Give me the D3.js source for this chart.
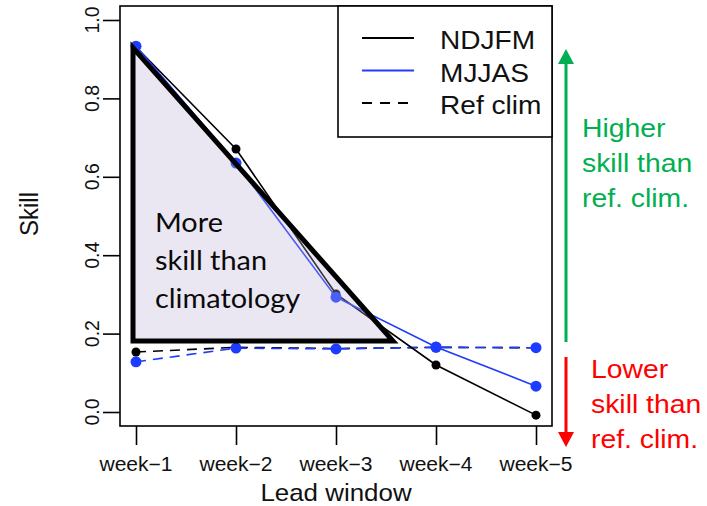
<!DOCTYPE html>
<html>
<head>
<meta charset="utf-8">
<script src="https://cdn.jsdelivr.net/npm/d3@7"></script>
<style>
  html, body { margin: 0; padding: 0; background: #fff; }
  svg { display: block; }
</style>
</head>
<body>
<svg id="chart" width="707" height="506"></svg>
<script>
// Lead windows on the x axis
const weeks = ["week\u22121", "week\u22122", "week\u22123", "week\u22124", "week\u22125"];
// Skill by lead window, per season
const ndjfm = [0.931, 0.671, 0.301, 0.120, -0.008];
const mjjas = [0.933, 0.635, 0.293, 0.166, 0.066];
// Reference climatology skill, per season
const refNdjfm = [0.153, 0.165, 0.162, 0.165, 0.164];
const refMjjas = [0.128, 0.163, 0.161, 0.165, 0.164];
// Y ticks
const yTicks = [0.0, 0.2, 0.4, 0.6, 0.8, 1.0];
// Shaded region (lead index, skill)
const region = [[0.97, 0.929], [0.97, 0.181], [3.57, 0.181]];
const regionText = ["More", "skill than", "climatology"];
const legendItems = [
  { label: "NDJFM", color: "#000000", dash: null },
  { label: "MJJAS", color: "#1e3cff", dash: null },
  { label: "Ref clim", color: "#000000", dash: "10,8" }
];
const higherText = ["Higher", "skill than", "ref. clim."];
const lowerText = ["Lower", "skill than", "ref. clim."];

const BLACK = "#000000", BLUE = "#1e3cff", GREEN = "#00b050", RED = "#ff0000";
const SX = 1.08; // horizontal text stretch
const RFONT = "'Liberation Sans', Arial, Helvetica, sans-serif";

const svg = d3.select("#chart");
const box = { left: 120, right: 552, top: 6, bottom: 426 };

const x = d3.scaleLinear().domain([0.84, 5.16]).range([box.left, box.right]);
const y = d3.scaleLinear().domain([-0.0357, 1.0357]).range([box.bottom, box.top]);
const xi = i => x(i + 1);

// Axes
const yAxis = d3.axisLeft(y).tickValues(yTicks).tickSize(17).tickFormat("");
const gy = svg.append("g").attr("transform", `translate(${box.left},0)`).call(yAxis);
gy.select(".domain").remove();
gy.selectAll(".tick line").attr("stroke", BLACK).attr("stroke-width", 1.6);

const xAxis = d3.axisBottom(x).tickValues([1, 2, 3, 4, 5]).tickSize(19).tickFormat("");
const gx = svg.append("g").attr("transform", `translate(0,${box.bottom})`).call(xAxis);
gx.select(".domain").remove();
gx.selectAll(".tick line").attr("stroke", BLACK).attr("stroke-width", 1.6);

// Tick labels
svg.append("g").selectAll("text").data(yTicks).join("text")
  .attr("transform", d => `translate(99,${y(d)}) scale(${SX},1) rotate(-90)`)
  .attr("text-anchor", "middle")
  .attr("font-family", RFONT).attr("font-size", 19.5).attr("fill", "#111")
  .text(d => d.toFixed(1));

svg.append("g").selectAll("text").data(weeks).join("text")
  .attr("transform", (d, i) => `translate(${xi(i)},471) scale(${SX},1)`)
  .attr("text-anchor", "middle")
  .attr("font-family", RFONT).attr("font-size", 19.5).attr("fill", "#111")
  .text(d => d);

// Axis titles
svg.append("text")
  .attr("transform", `translate(336,501) scale(${SX},1)`)
  .attr("text-anchor", "middle")
  .attr("font-family", RFONT).attr("font-size", 24).attr("fill", "#111")
  .text("Lead window");
svg.append("text")
  .attr("transform", `translate(38,214) scale(${SX},1) rotate(-90)`)
  .attr("text-anchor", "middle")
  .attr("font-family", RFONT).attr("font-size", 24).attr("fill", "#111")
  .text("Skill");

// Series
const line = d3.line().x((d, i) => xi(i)).y(d => y(d));

function series(values, color, r, dash) {
  const g = svg.append("g");
  g.append("path").datum(values)
    .attr("d", line).attr("fill", "none")
    .attr("stroke", color).attr("stroke-width", 1.6)
    .attr("stroke-dasharray", dash);
  g.selectAll("circle").data(values).join("circle")
    .attr("cx", (d, i) => xi(i)).attr("cy", d => y(d))
    .attr("r", r).attr("fill", color);
}
series(refNdjfm, BLACK, 4.5, "10,7");
series(refMjjas, BLUE, 5.5, "10,7");
series(ndjfm, BLACK, 4.5, null);
series(mjjas, BLUE, 5.5, null);

// Shaded region
svg.append("path")
  .datum(region)
  .attr("d", d3.line().x(d => x(d[0])).y(d => y(d[1])).curve(d3.curveLinearClosed))
  .attr("fill", "rgb(185,175,215)").attr("fill-opacity", 0.3)
  .attr("stroke", BLACK).attr("stroke-width", 5).attr("stroke-linejoin", "miter");

svg.append("g").selectAll("text").data(regionText).join("text")
  .attr("transform", (d, i) => `translate(155,${232 + i * 38}) scale(1.05,1)`)
  .attr("font-family", "Lato, 'Open Sans', sans-serif").attr("font-size", 27.5)
  .attr("fill", "#0a0a0a")
  .text(d => d);

// Plot frame
svg.append("rect")
  .attr("x", box.left).attr("y", box.top)
  .attr("width", box.right - box.left).attr("height", box.bottom - box.top)
  .attr("fill", "none").attr("stroke", BLACK).attr("stroke-width", 1.6);

// Legend
const lg = svg.append("g");
lg.append("rect")
  .attr("x", 338).attr("y", box.top).attr("width", box.right - 338).attr("height", 131)
  .attr("fill", "#fff").attr("stroke", BLACK).attr("stroke-width", 1.6);
legendItems.forEach((it, i) => {
  const cy = 38 + i * 32.5;
  lg.append("line")
    .attr("x1", 362).attr("x2", 414).attr("y1", cy).attr("y2", cy)
    .attr("stroke", it.color).attr("stroke-width", 2)
    .attr("stroke-dasharray", it.dash);
  lg.append("text")
    .attr("transform", `translate(440,${cy + 11}) scale(${SX},1)`)
    .attr("font-family", RFONT).attr("font-size", 26).attr("fill", "#111")
    .text(it.label);
});

// Direction arrows
const ax = 566;
const arrows = svg.append("g");
arrows.append("line").attr("x1", ax).attr("x2", ax).attr("y1", 342).attr("y2", 62)
  .attr("stroke", GREEN).attr("stroke-width", 3);
arrows.append("path").attr("d", `M${ax},49 L${ax - 8},64 L${ax + 8},64 Z`).attr("fill", GREEN);
arrows.append("line").attr("x1", ax).attr("x2", ax).attr("y1", 357).attr("y2", 434)
  .attr("stroke", RED).attr("stroke-width", 3);
arrows.append("path").attr("d", `M${ax},447 L${ax - 8},432 L${ax + 8},432 Z`).attr("fill", RED);

svg.append("g").selectAll("text").data(higherText).join("text")
  .attr("transform", (d, i) => `translate(582,${137 + i * 35}) scale(1.07,1)`)
  .attr("font-family", RFONT).attr("font-size", 26.5).attr("fill", GREEN)
  .text(d => d);
svg.append("g").selectAll("text").data(lowerText).join("text")
  .attr("transform", (d, i) => `translate(591,${378 + i * 35}) scale(1.07,1)`)
  .attr("font-family", RFONT).attr("font-size", 26.5).attr("fill", RED)
  .text(d => d);
</script>
</body>
</html>
